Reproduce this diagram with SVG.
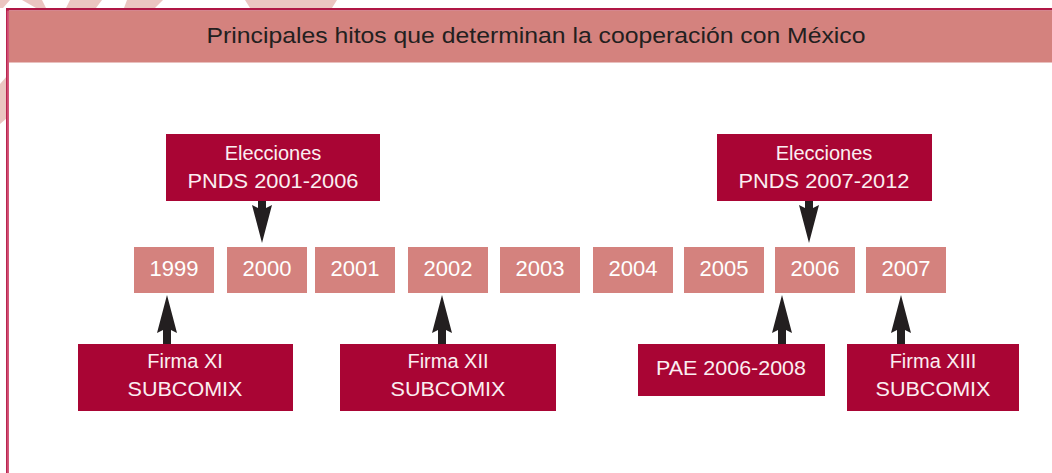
<svg xmlns="http://www.w3.org/2000/svg" width="1052" height="473" viewBox="0 0 1052 473">
<defs>
<style>
.bg{fill:#ffffff}
.wm{fill:#ebc5c1}
.hdr{fill:#d4827e}
.year{fill:#d4827e}
.ev{fill:#a90534}
.t-title{font-family:"Liberation Sans",Arial,sans-serif;font-size:22px;fill:#231f20;text-anchor:middle}
.t-year{font-family:"Liberation Sans",Arial,sans-serif;font-size:22px;fill:#ffffff;text-anchor:middle}
.t-ev{font-family:"Liberation Sans",Arial,sans-serif;font-size:20px;fill:#fbeef1;text-anchor:middle}
.arr{fill:#231f20}
</style>
</defs>
<rect class="bg" x="0" y="0" width="1052" height="473"/>
<g id="watermark">
<polygon class="wm" points="0,0 10,0 3,8 0,8"/>
<polygon class="wm" points="22,0 42,0 46,8 36,8"/>
<polygon class="wm" points="70,0 102,0 96,8 66,8"/>
<polygon class="wm" points="127,0 163,0 155,8 124,8"/>
<polygon class="wm" points="245,0 337,0 332,8 250,8"/>
<polygon class="wm" points="0,84 7,76 7,118 0,124"/>
</g>
<g id="frame">
<rect x="6" y="8" width="3" height="465" fill="#d4567a"/>
<rect x="6" y="8" width="1.2" height="465" fill="#b8254f"/>
<rect x="6" y="8" width="1046" height="2.5" fill="#b01745"/>
<rect class="hdr" x="9" y="10.5" width="1043" height="52"/>
<text class="t-title" x="536" y="43" textLength="659" lengthAdjust="spacingAndGlyphs">Principales hitos que determinan la cooperación con México</text>
</g>
<g id="years">
<g id="y1999"><rect class="year" x="134" y="247" width="80" height="46"/><text class="t-year" x="174" y="276">1999</text></g>
<g id="y2000"><rect class="year" x="227" y="247" width="80" height="46"/><text class="t-year" x="267" y="276">2000</text></g>
<g id="y2001"><rect class="year" x="315" y="247" width="80" height="46"/><text class="t-year" x="355" y="276">2001</text></g>
<g id="y2002"><rect class="year" x="408" y="247" width="80" height="46"/><text class="t-year" x="448" y="276">2002</text></g>
<g id="y2003"><rect class="year" x="500" y="247" width="80" height="46"/><text class="t-year" x="540" y="276">2003</text></g>
<g id="y2004"><rect class="year" x="593" y="247" width="80" height="46"/><text class="t-year" x="633" y="276">2004</text></g>
<g id="y2005"><rect class="year" x="684" y="247" width="80" height="46"/><text class="t-year" x="724" y="276">2005</text></g>
<g id="y2006"><rect class="year" x="775" y="247" width="80" height="46"/><text class="t-year" x="815" y="276">2006</text></g>
<g id="y2007"><rect class="year" x="866" y="247" width="80" height="46"/><text class="t-year" x="906" y="276">2007</text></g>
</g>
<g id="elecciones-2001-2006"><rect class="ev" x="166" y="134" width="214" height="67"/><text class="t-ev" x="273" y="160">Elecciones</text><text class="t-ev" x="273" y="188" textLength="171" lengthAdjust="spacingAndGlyphs">PNDS 2001-2006</text></g>
<g id="elecciones-2007-2012"><rect class="ev" x="717" y="134" width="215" height="67"/><text class="t-ev" x="824" y="160">Elecciones</text><text class="t-ev" x="824" y="188" textLength="171" lengthAdjust="spacingAndGlyphs">PNDS 2007-2012</text></g>
<g id="firma-xi"><rect class="ev" x="78" y="344" width="215" height="67"/><text class="t-ev" x="185" y="368">Firma XI</text><text class="t-ev" x="185" y="396" textLength="115" lengthAdjust="spacingAndGlyphs">SUBCOMIX</text></g>
<g id="firma-xii"><rect class="ev" x="340" y="344" width="216" height="67"/><text class="t-ev" x="448" y="368">Firma XII</text><text class="t-ev" x="448" y="396" textLength="115" lengthAdjust="spacingAndGlyphs">SUBCOMIX</text></g>
<g id="pae"><rect class="ev" x="638" y="344" width="187" height="52"/><text class="t-ev" x="731" y="375" textLength="150" lengthAdjust="spacingAndGlyphs">PAE 2006-2008</text></g>
<g id="firma-xiii"><rect class="ev" x="847" y="344" width="172" height="67"/><text class="t-ev" x="933" y="368">Firma XIII</text><text class="t-ev" x="933" y="396" textLength="115" lengthAdjust="spacingAndGlyphs">SUBCOMIX</text></g>
<g id="connectors">
<polygon class="arr" points="258,201 266,201 266,208 272,205 262,243 252,205 258,208"/>
<polygon class="arr" points="805,201 813,201 813,208 819,205 809,243 799,205 805,208"/>
<polygon class="arr" points="167,295 177,333 171,330 171,344 163,344 163,330 157,333"/>
<polygon class="arr" points="442,295 452,333 446,330 446,344 438,344 438,330 432,333"/>
<polygon class="arr" points="782,295 792,333 786,330 786,344 778,344 778,330 772,333"/>
<polygon class="arr" points="901,295 911,333 905,330 905,344 897,344 897,330 891,333"/>
</g>
</svg>
